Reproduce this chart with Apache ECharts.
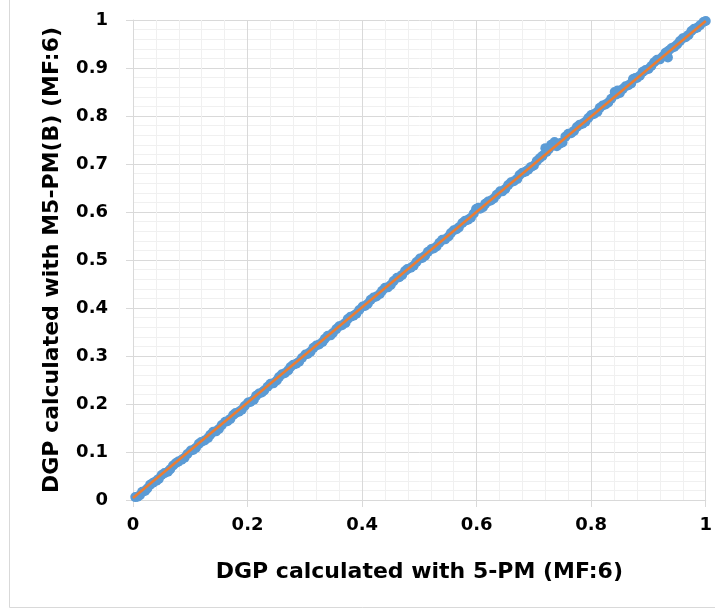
<!DOCTYPE html>
<html>
<head>
<meta charset="utf-8">
<script src="https://cdn.jsdelivr.net/npm/echarts@6/dist/echarts.min.js"></script>
<style>
  html, body { margin: 0; padding: 0; background: #fff; }
  #chart { width: 715px; height: 612px; }
</style>
</head>
<body>
<div id="chart"></div>
<script>
// DGP values
var dgp5pm = [0.004,0.012,0.021,0.030,0.041,0.050,0.061,0.070,0.079,0.090,
  0.101,0.110,0.119,0.131,0.140,0.150,0.161,0.170,0.179,0.190,
  0.201,0.211,0.220,0.229,0.240,0.251,0.260,0.271,0.280,0.290,
  0.301,0.310,0.320,0.331,0.340,0.349,0.360,0.371,0.380,0.390,
  0.401,0.410,0.420,0.431,0.440,0.450,0.461,0.470,0.479,0.490,
  0.501,0.510,0.521,0.530,0.540,0.551,0.560,0.569,0.580,0.590,
  0.599,0.603,0.611,0.620,0.630,0.641,0.650,0.660,0.671,0.680,
  0.690,0.700,0.710,0.720,0.722,0.730,0.736,0.744,0.750,0.760,
  0.770,0.780,0.790,0.800,0.811,0.820,0.830,0.841,0.846,0.850,
  0.860,0.870,0.873,0.880,0.890,0.900,0.910,0.920,0.930,0.934,
  0.940,0.950,0.960,0.970,0.980,0.990,0.996,1.000];
var dgpM5pm = [0.006,0.010,0.019,0.032,0.040,0.052,0.059,0.072,0.080,0.088,
  0.103,0.109,0.121,0.129,0.142,0.148,0.163,0.169,0.181,0.188,
  0.203,0.209,0.222,0.228,0.242,0.249,0.262,0.270,0.282,0.288,
  0.303,0.309,0.322,0.329,0.342,0.348,0.362,0.369,0.382,0.388,
  0.403,0.409,0.422,0.429,0.442,0.448,0.463,0.469,0.481,0.488,
  0.503,0.509,0.523,0.528,0.542,0.549,0.562,0.568,0.582,0.588,
  0.606,0.609,0.610,0.622,0.628,0.643,0.648,0.662,0.669,0.682,
  0.688,0.697,0.712,0.733,0.725,0.740,0.746,0.742,0.745,0.763,
  0.769,0.782,0.788,0.802,0.809,0.822,0.828,0.850,0.853,0.848,
  0.862,0.868,0.877,0.879,0.892,0.898,0.912,0.918,0.932,0.922,
  0.941,0.949,0.962,0.969,0.982,0.989,0.996,0.998];
var dgp5pmMid = [0.008,0.016,0.025,0.035,0.045,0.055,0.065,0.075,0.085,0.095,
  0.105,0.115,0.125,0.135,0.145,0.155,0.165,0.175,0.185,0.195,
  0.205,0.215,0.225,0.235,0.245,0.255,0.265,0.275,0.285,0.295,
  0.305,0.315,0.325,0.335,0.345,0.355,0.365,0.375,0.385,0.395,
  0.405,0.415,0.425,0.435,0.445,0.455,0.465,0.475,0.485,0.495,
  0.505,0.515,0.525,0.535,0.545,0.555,0.565,0.575,0.585,0.595,
  0.606,0.615,0.625,0.635,0.645,0.655,0.665,0.675,0.685,0.695,
  0.705,0.715,0.726,0.733,0.740,0.747,0.755,0.765,0.775,0.785,
  0.795,0.805,0.815,0.825,0.835,0.844,0.855,0.865,0.877,0.885,
  0.895,0.905,0.915,0.925,0.935,0.945,0.955,0.965,0.975,0.985];
var dgpM5pmMid = [0.007,0.017,0.024,0.036,0.044,0.056,0.064,0.077,0.084,0.096,
  0.104,0.117,0.124,0.136,0.143,0.156,0.164,0.177,0.184,0.196,
  0.204,0.217,0.224,0.236,0.243,0.256,0.264,0.277,0.284,0.296,
  0.304,0.317,0.324,0.336,0.343,0.356,0.364,0.377,0.384,0.396,
  0.404,0.417,0.424,0.436,0.443,0.456,0.464,0.477,0.484,0.496,
  0.504,0.517,0.524,0.536,0.543,0.556,0.564,0.577,0.584,0.597,
  0.607,0.617,0.624,0.636,0.643,0.656,0.664,0.677,0.684,0.694,
  0.706,0.717,0.731,0.738,0.737,0.744,0.757,0.764,0.777,0.784,
  0.796,0.804,0.817,0.824,0.836,0.845,0.856,0.864,0.879,0.884,
  0.896,0.904,0.917,0.924,0.936,0.944,0.956,0.964,0.977,0.984];
var trendX = [0, 1];
var trendY = [0.004, 0.998];

var points = dgp5pm.map(function (x, i) { return [x, dgpM5pm[i]]; })
    .concat(dgp5pmMid.map(function (x, i) { return [x, dgpM5pmMid[i]]; }));
var trend = trendX.map(function (x, i) { return [x, trendY[i]]; });

var font = 'DejaVu Sans';
var charts = echarts.init(document.getElementById('chart'));
const option = {
    animation: false,
    textStyle: { fontFamily: font },
    graphic: [{
        type: 'rect',
        shape: { x: 9.5, y: -2, width: 712, height: 609.5 },
        style: { fill: 'none', stroke: '#d9d9d9', lineWidth: 1 },
        silent: true
    }],
    grid: { left: 133, right: 9, top: 20, bottom: 112 },
    xAxis: {
        type: 'value',
        min: 0, max: 1, interval: 0.2,
        name: 'DGP calculated with 5-PM (MF:6)',
        nameLocation: 'middle',
        nameGap: 61,
        nameTextStyle: { fontSize: 22, fontWeight: 'bold', color: '#000', fontFamily: font },
        axisLine: { lineStyle: { color: '#d9d9d9', width: 1 } },
        axisTick: { show: true, length: 7, lineStyle: { color: '#d9d9d9' } },
        axisLabel: { fontSize: 18, fontWeight: 'bold', color: '#000', margin: 16, fontFamily: font },
        splitLine: { lineStyle: { color: '#d9d9d9' } },
        minorTick: { show: false, splitNumber: 5 },
        minorSplitLine: { show: true, lineStyle: { color: '#f0f0f0' } }
    },
    yAxis: {
        type: 'value',
        min: 0, max: 1, interval: 0.1,
        name: 'DGP calculated with M5-PM(B) (MF:6)',
        nameLocation: 'middle',
        nameGap: 70,
        nameTextStyle: { fontSize: 22, fontWeight: 'bold', color: '#000', fontFamily: font },
        axisLine: { show: true, lineStyle: { color: '#d9d9d9', width: 1 } },
        axisTick: { show: true, length: 7, lineStyle: { color: '#d9d9d9' } },
        axisLabel: { fontSize: 18, fontWeight: 'bold', color: '#000', margin: 25, fontFamily: font },
        splitLine: { lineStyle: { color: '#d9d9d9' } },
        minorTick: { show: false, splitNumber: 5 },
        minorSplitLine: { show: true, lineStyle: { color: '#f0f0f0' } }
    },
    series: [{
        name: 'DGP',
        type: 'scatter',
        data: points,
        symbolSize: 10,
        itemStyle: { color: '#5b9bd5', opacity: 1 },
        clip: false
    }, {
        name: 'Trend',
        type: 'line',
        data: trend,
        symbol: 'none',
        lineStyle: { color: '#ed7d31', width: 2.5 },
        z: 3
    }]
};
charts.setOption(option);
</script>
</body>
</html>
